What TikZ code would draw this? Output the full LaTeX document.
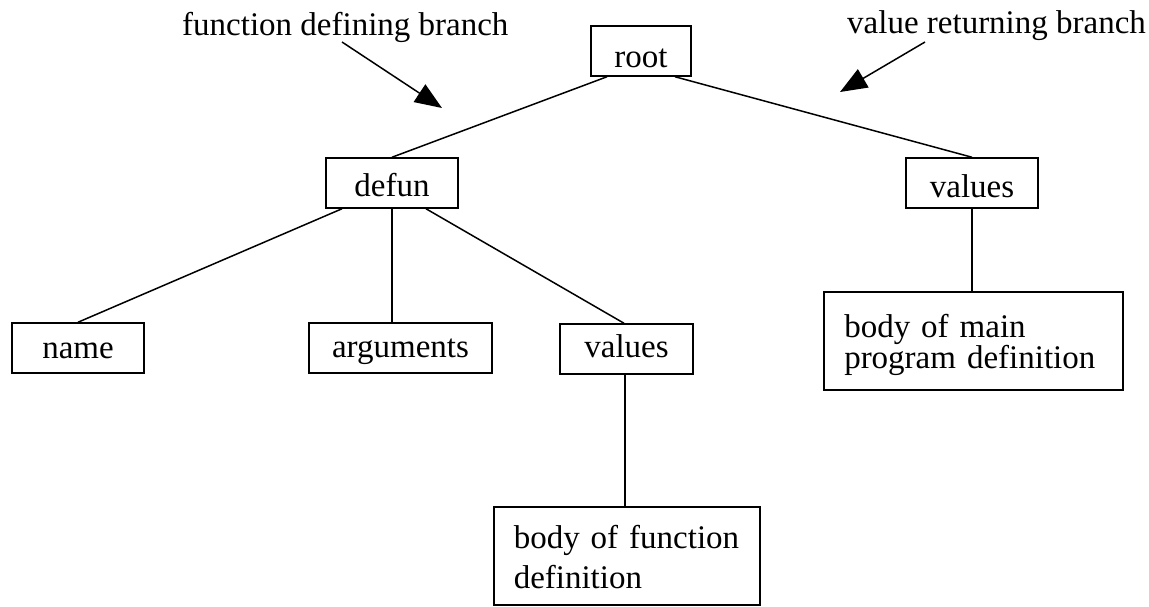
\documentclass[tikz,border=0pt]{standalone}
\usepackage{fontspec}
\setmainfont{Liberation Serif}
\usetikzlibrary{arrows.meta}

\begin{document}
\begin{tikzpicture}[x=1pt, y=-1pt,
  every node/.style={font=\fontsize{33}{40}\selectfont},
  tbox/.style={draw, line width=1.5pt, inner sep=0pt, minimum height=0pt, anchor=base},
  mbox/.style={draw, line width=1.5pt, inner ysep=0pt, minimum height=0pt,
               anchor=base west, align=left},
  label/.style={inner sep=0pt, anchor=base west},
  edge/.style={line width=1.5pt},
  pointer/.style={line width=1.5pt, -{Triangle[length=27pt, width=21pt]}}
]
\useasboundingbox (0,0) rectangle (1149,606);

% annotations
\node[label] (fdef) at (182,35) {function defining branch};
\node[label] (vret) at (847,33) {value returning branch};
\coordinate (fdtail) at (342,42);
\coordinate (fdtip)  at (442,108);
\coordinate (vrtail) at (925,42);
\coordinate (vrtip)  at (840,92);
\draw[pointer] (fdtail) -- (fdtip);
\draw[pointer] (vrtail) -- (vrtip);

% tree nodes
\node[tbox, minimum width=100pt, text height=41pt, text depth=9pt]  (root)  at (641,67)   {root};
\node[tbox, minimum width=132pt, text height=38pt, text depth=12pt] (defun) at (392,196)  {defun};
\node[tbox, minimum width=132pt, text height=39pt, text depth=11pt] (valR)  at (972,197)  {values};
\node[tbox, minimum width=132pt, text height=35pt, text depth=15pt] (name)  at (78,358)   {name};
\node[tbox, minimum width=183pt, text height=34pt, text depth=16pt] (args)  at (400.5,357) {arguments};
\node[tbox, minimum width=133pt, text height=33pt, text depth=17pt] (valL)  at (626.5,357) {values};

\node[mbox, inner xsep=20pt, text width=226pt, text height=41pt, text depth=57pt,
      font=\fontsize{33}{40}\selectfont] (bodyF) at (493,548)
      {body of function\\definition};
\node[mbox, inner xsep=20.5pt, text width=258pt, text height=45pt, text depth=53pt,
      font=\fontsize{33}{31}\selectfont] (bodyM) at (823,337)
      {body of main\\program definition};

% connectors
\draw[edge] ([xshift=-34pt]root.south) -- (defun.north);
\draw[edge] ([xshift=34pt]root.south) -- (valR.north);
\draw[edge] ([xshift=-50pt]defun.south) -- (name.north);
\draw[edge] (defun.south) -- (defun.south |- args.north);
\draw[edge] ([xshift=34pt]defun.south) -- ([xshift=-2.5pt]valL.north);
\draw[edge] ([xshift=-1.5pt]valL.south) -- ([xshift=-1.5pt]valL.south |- bodyF.north);
\draw[edge] (valR.south) -- (valR.south |- bodyM.north);
\end{tikzpicture}
\end{document}
